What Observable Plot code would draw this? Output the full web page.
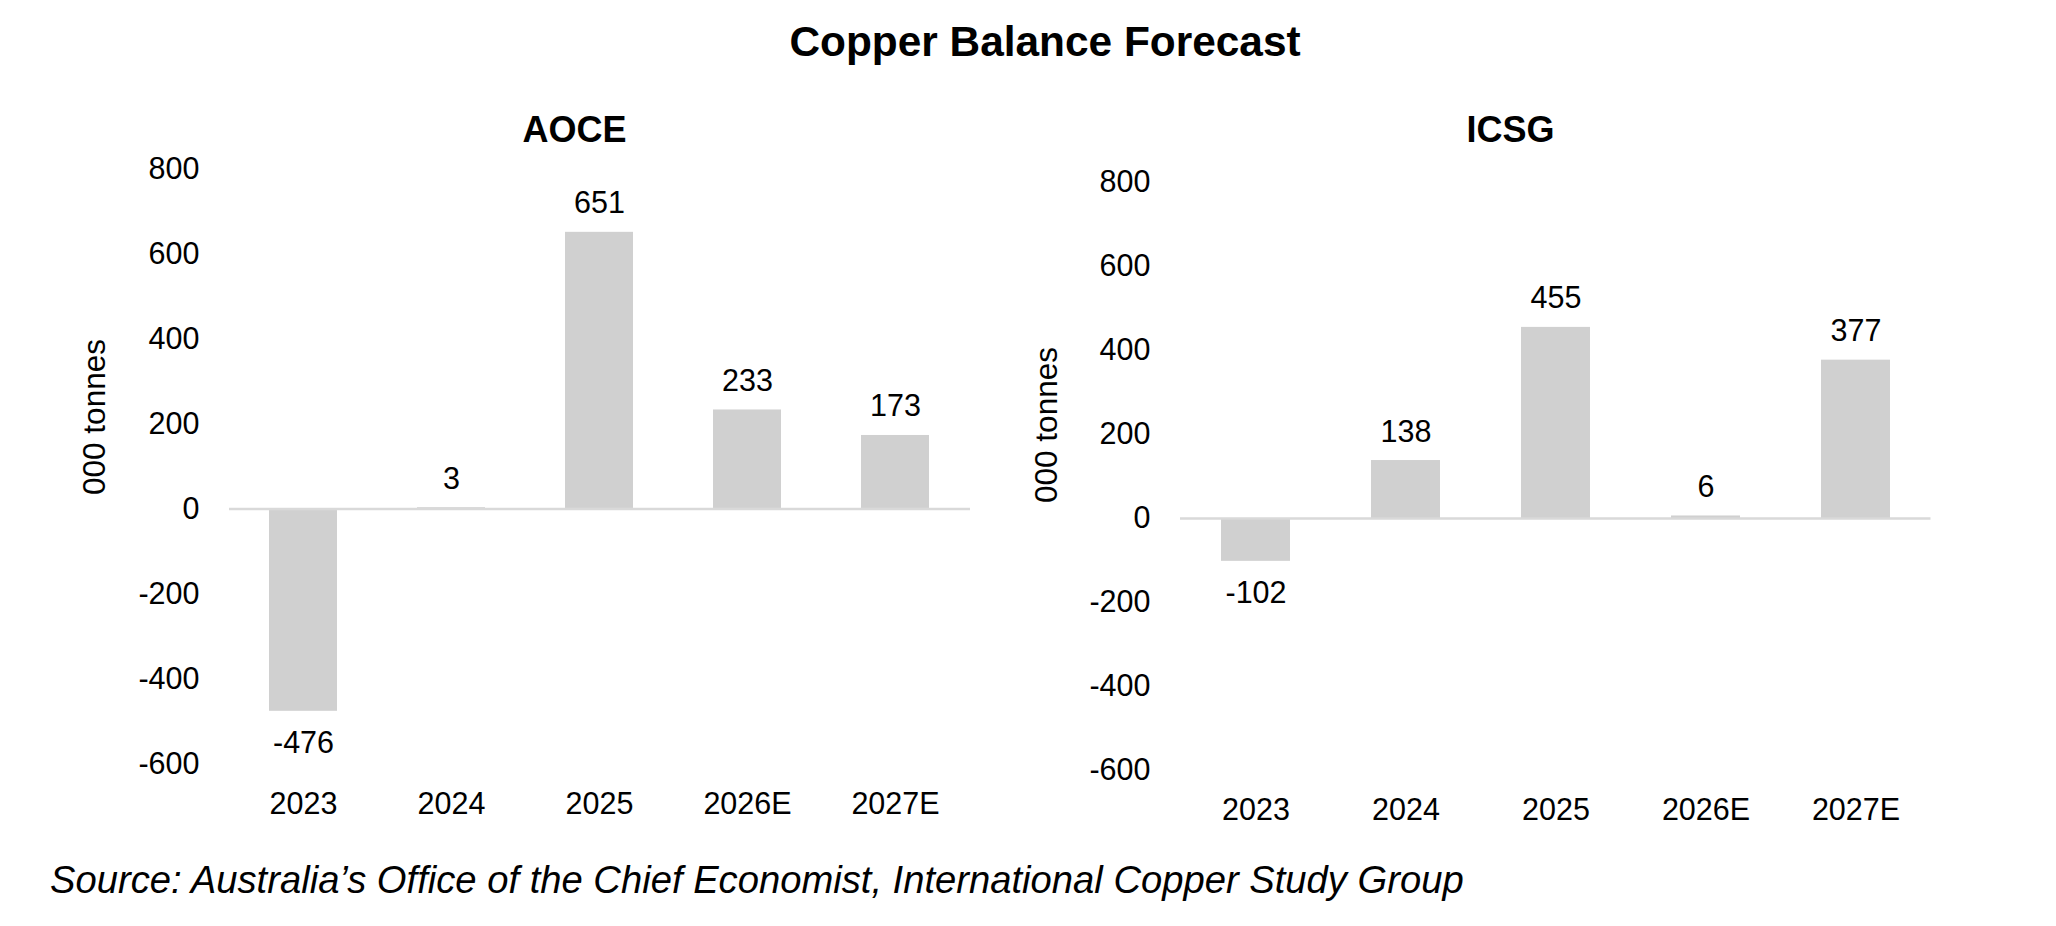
<!DOCTYPE html>
<html>
<head>
<meta charset="utf-8">
<script src="https://cdn.jsdelivr.net/npm/d3@7"></script>
<script src="https://cdn.jsdelivr.net/npm/@observablehq/plot@0.6"></script>
<style>
  html, body { margin: 0; padding: 0; background: #fff; }
  #page {
    position: relative; width: 2056px; height: 926px; overflow: hidden;
    font-family: "Liberation Sans", Arial, Helvetica, sans-serif; color: #000;
  }
  .txt { position: absolute; line-height: 1; white-space: nowrap; }
  .center { transform: translateX(-50%); }
  #title { font-size: 42.4px; font-weight: bold; left: 1045px; top: 21px; }
  .panel-title { font-size: 36px; font-weight: bold; top: 111.5px; }
  #aoce-title { left: 574.5px; }
  #icsg-title { left: 1510.5px; }
  .ytitle { font-size: 31.5px; transform: translate(-50%, -50%) rotate(-90deg); }
  #aoce-ytitle { left: 94.5px; top: 416.5px; }
  #icsg-ytitle { left: 1047px; top: 425px; }
  #source { font-size: 38.2px; font-style: italic; left: 50px; top: 861px; }
  .chart { position: absolute; top: 100px; }
  #aoce-chart { left: 0px; }
  #icsg-chart { left: 1000px; }
</style>
</head>
<body>
<div id="page">
  <div id="title" class="txt center">Copper Balance Forecast</div>
  <div id="aoce-title" class="txt center panel-title">AOCE</div>
  <div id="icsg-title" class="txt center panel-title">ICSG</div>
  <div id="aoce-chart" class="chart"></div>
  <div id="icsg-chart" class="chart"></div>
  <div id="aoce-ytitle" class="txt ytitle">000 tonnes</div>
  <div id="icsg-ytitle" class="txt ytitle">000 tonnes</div>
  <div id="source" class="txt">Source: Australia’s Office of the Chief Economist, International Copper Study Group</div>
</div>
<script>
// Copper market balance (000 tonnes) by year, two forecasters
const years = ["2023", "2024", "2025", "2026E", "2027E"];
const aoceBalance = [-476, 3, 651, 233, 173];
const icsgBalance = [-102, 138, 455, 6, 377];
const yTicks = [-600, -400, -200, 0, 200, 400, 600, 800];
const yDomain = [-600, 800];

const barFill = "#d0d0d0";
const zeroStroke = "#d9d9d9";
const fontFamily = '"Liberation Sans", Arial, Helvetica, sans-serif';

function balancePanel(values, frame) {
  const rows = years.map((year, i) => ({year, value: values[i]}));
  const label = d => String(d.value);
  return Plot.plot({
    width: frame.width,
    height: frame.height,
    marginLeft: frame.left,
    marginRight: frame.right,
    marginTop: frame.top,
    marginBottom: frame.bottom,
    style: {
      fontFamily,
      fontSize: "30.5px",
      color: "#000",
      background: "transparent",
      overflow: "visible"
    },
    x: {
      domain: years,
      paddingInner: 0.54,
      paddingOuter: 0.27,
      tickSize: 0,
      tickPadding: 28,
      label: null
    },
    y: {
      domain: yDomain,
      ticks: yTicks,
      tickSize: 0,
      tickPadding: 30,
      tickFormat: d => String(d),
      label: null
    },
    marks: [
      Plot.barY(rows, {x: "year", y: "value", fill: barFill}),
      Plot.ruleY([0], {stroke: zeroStroke, strokeWidth: 2.5}),
      Plot.text(rows.filter(d => d.value >= 0), {
        x: "year", y: "value", text: label,
        lineAnchor: "bottom", dy: -19, fill: "#000"
      }),
      Plot.text(rows.filter(d => d.value < 0), {
        x: "year", y: "value", text: label,
        lineAnchor: "top", dy: 20, fill: "#000"
      })
    ]
  });
}

document.getElementById("aoce-chart").append(
  balancePanel(aoceBalance, {width: 1010, height: 730, left: 229, right: 40, top: 68.5, bottom: 66.5})
);
document.getElementById("icsg-chart").append(
  balancePanel(icsgBalance, {width: 1000, height: 730, left: 180, right: 69.5, top: 82, bottom: 60})
);
</script>
</body>
</html>
